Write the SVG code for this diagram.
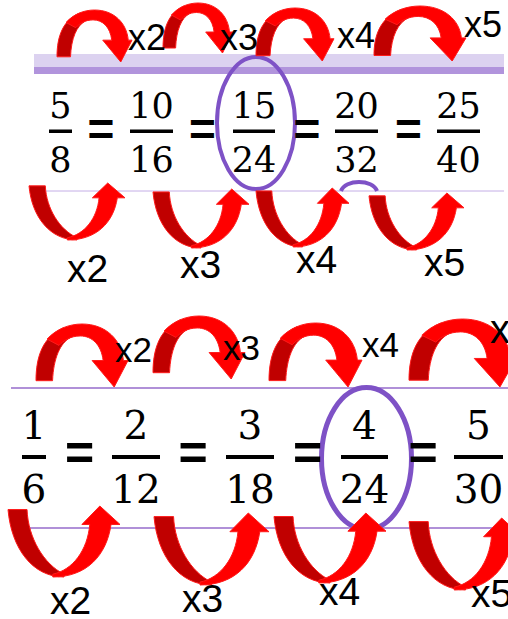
<svg xmlns="http://www.w3.org/2000/svg" xmlns:xlink="http://www.w3.org/1999/xlink" width="508" height="619" viewBox="0 0 508 619">
<style>
.num{font-family:"DejaVu Serif","Liberation Serif",serif;fill:#000;text-anchor:middle}
.n1{font-size:35px}
.n2{font-size:39px}
.eq{font-family:"Liberation Sans",Arial,sans-serif;font-weight:bold;fill:#000;text-anchor:middle}
.lbl{font-family:"Liberation Sans",Arial,sans-serif;fill:#000}
.bar{fill:#000}
.ell{fill:none;stroke:#7e52c6}
.dk{fill:#c00000;stroke:#ff1a1a;stroke-width:1;vector-effect:non-scaling-stroke}
.br{fill:#ff0000;stroke:#ff1a1a;stroke-width:1;vector-effect:non-scaling-stroke}
</style>
<defs>
<symbol id="over" viewBox="0 0 100 100" preserveAspectRatio="none" overflow="visible">
<path class="dk" d="M0,90 C0,50 8,20 30,6 L38,21 C26,30 19,55 18,90 Z"/>
<path class="br" d="M12,24 C22,8 36,0 50,0 C76,0 93,25 95,58 L100,58 L85,100 L61,58 L73,58 C71,33 61,19 48,19 C38,19 30,26 25,34 Z"/>
</symbol>
<symbol id="under" viewBox="0 0 100 100" preserveAspectRatio="none" overflow="visible">
<path class="dk" d="M0,5 L17,5 C18,45 32,82 50,96 L50,100 C22,100 3,60 0,5 Z"/>
<path class="br" d="M40,100 C70,100 88,70 92,26 L100,26 L82,0 L66,26 L73,26 C71,62 58,90 40,96 Z"/>
</symbol>
</defs>
<rect width="508" height="619" fill="#fff"/>

<g id="guides">
<rect x="34" y="54" width="470" height="13" fill="#dcd2f0"/>
<rect x="34" y="67" width="470" height="7" fill="#b194dc"/>
<line x1="43" y1="191" x2="504" y2="191" stroke="#c4aee6" stroke-width="1"/>
<line x1="11" y1="388" x2="508" y2="388" stroke="#b090d8" stroke-width="2"/>
<line x1="11" y1="528" x2="508" y2="528" stroke="#b090d8" stroke-width="2"/>
</g>

<g id="highlights">
<ellipse class="ell" cx="256" cy="123" rx="39" ry="66" stroke-width="4"/>
<path class="ell" d="M341,191 C345,179 373,179 377,191" stroke-width="4"/>
<ellipse class="ell" cx="366.5" cy="458.5" rx="45" ry="71" stroke-width="5"/>
</g>

<g id="f-5-8"><text class="num n1" x="60.5" y="118">5</text><rect class="bar" x="49" y="129.5" width="23" height="3.5"/><text class="num n1" x="60.5" y="172">8</text></g>
<g id="eq-a1"><text class="eq" x="101" y="145" font-size="46">=</text></g>
<g id="f-10-16"><text class="num n1" x="151.5" y="118">10</text><rect class="bar" x="130" y="129.5" width="43" height="3.5"/><text class="num n1" x="151.5" y="172">16</text></g>
<g id="eq-a2"><text class="eq" x="202.5" y="145" font-size="46">=</text></g>
<g id="f-15-24"><text class="num n1" x="254" y="118">15</text><rect class="bar" x="233" y="129.5" width="42" height="3.5"/><text class="num n1" x="254" y="172">24</text></g>
<g id="eq-a3"><text class="eq" x="307" y="145" font-size="46">=</text></g>
<g id="f-20-32"><text class="num n1" x="356.5" y="118">20</text><rect class="bar" x="335" y="129.5" width="43" height="3.5"/><text class="num n1" x="356.5" y="172">32</text></g>
<g id="eq-a4"><text class="eq" x="408.5" y="145" font-size="46">=</text></g>
<g id="f-25-40"><text class="num n1" x="458.5" y="118">25</text><rect class="bar" x="437" y="129.5" width="43" height="3.5"/><text class="num n1" x="458.5" y="172">40</text></g>

<g id="f-1-6"><text class="num n2" x="34" y="439">1</text><rect class="bar" x="22" y="455" width="24" height="4"/><text class="num n2" x="34" y="503">6</text></g>
<g id="eq-b1"><text class="eq" x="79.5" y="470" font-size="50">=</text></g>
<g id="f-2-12"><text class="num n2" x="136" y="439">2</text><rect class="bar" x="112" y="455" width="48" height="4"/><text class="num n2" x="136" y="503">12</text></g>
<g id="eq-b2"><text class="eq" x="193" y="470" font-size="50">=</text></g>
<g id="f-3-18"><text class="num n2" x="250" y="439">3</text><rect class="bar" x="226" y="455" width="48" height="4"/><text class="num n2" x="250" y="503">18</text></g>
<g id="eq-b3"><text class="eq" x="307.5" y="470" font-size="50">=</text></g>
<g id="f-4-24"><text class="num n2" x="364.5" y="439">4</text><rect class="bar" x="341" y="455" width="47" height="4"/><text class="num n2" x="364.5" y="503">24</text></g>
<g id="eq-b4"><text class="eq" x="423" y="470" font-size="50">=</text></g>
<g id="f-5-30"><text class="num n2" x="478.5" y="439">5</text><rect class="bar" x="454" y="455" width="49" height="4"/><text class="num n2" x="478.5" y="503">30</text></g>

<g id="connectors">
<use href="#over" x="57" y="10" width="75" height="52"/>
<use href="#over" x="163" y="3" width="70" height="50"/>
<use href="#over" x="256" y="8" width="78" height="53"/>
<use href="#over" x="374" y="6" width="92" height="55"/>
<use href="#under" x="29" y="183" width="96" height="57"/>
<use href="#under" x="153" y="189" width="96" height="59"/>
<use href="#under" x="256" y="188" width="93" height="59"/>
<use href="#under" x="369" y="193" width="95" height="57"/>
<use href="#over" x="36" y="324" width="92" height="63"/>
<use href="#over" x="153" y="316" width="92" height="63"/>
<use href="#over" x="269" y="323" width="93" height="64"/>
<use href="#over" x="409" y="319" width="107" height="68"/>
<use href="#under" x="8" y="506" width="112" height="71"/>
<use href="#under" x="154" y="513" width="115" height="72"/>
<use href="#under" x="274" y="513" width="112" height="70"/>
<use href="#under" x="409" y="518" width="113" height="72"/>
<text class="lbl" x="128" y="50" font-size="36">x2</text>
<text class="lbl" x="220" y="50" font-size="36">x3</text>
<text class="lbl" x="337" y="48" font-size="36">x4</text>
<text class="lbl" x="464" y="37" font-size="36">x5</text>
<text class="lbl" x="67" y="282" font-size="39">x2</text>
<text class="lbl" x="180" y="278" font-size="39">x3</text>
<text class="lbl" x="296" y="273" font-size="39">x4</text>
<text class="lbl" x="424" y="276" font-size="39">x5</text>
<text class="lbl" x="115" y="362" font-size="35">x2</text>
<text class="lbl" x="223" y="360" font-size="35">x3</text>
<text class="lbl" x="362" y="357" font-size="35">x4</text>
<text class="lbl" x="490" y="343" font-size="40">x5</text>
<text class="lbl" x="50" y="614" font-size="39">x2</text>
<text class="lbl" x="182" y="612" font-size="39">x3</text>
<text class="lbl" x="319" y="605" font-size="39">x4</text>
<text class="lbl" x="471" y="607" font-size="39">x5</text>
</g>
</svg>
